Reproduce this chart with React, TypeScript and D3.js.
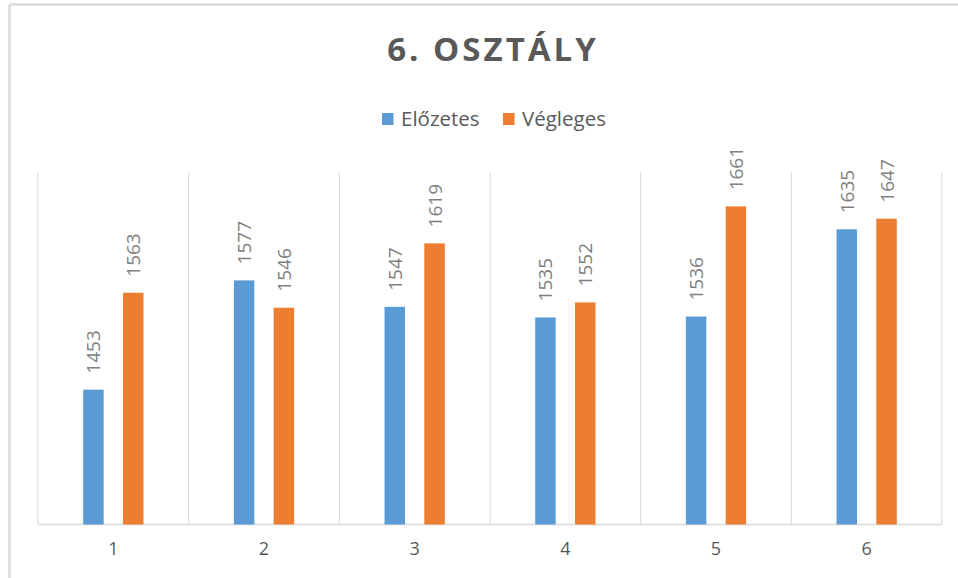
import React from "react";
import * as d3 from "d3";

const categories = ["1", "2", "3", "4", "5", "6"];
const seriesNames = ["Előzetes", "Végleges"];
const elozetes = [1453, 1577, 1547, 1535, 1536, 1635];
const vegleges = [1563, 1546, 1619, 1552, 1661, 1647];
const colors = ["#5B9BD5", "#ED7D31"];
const title = "6. OSZTÁLY";

const W = 958;
const H = 578;
const plot = { left: 38, right: 942, top: 172, bottom: 524.5 };
const font = "'Open Sans', sans-serif";

export default function App() {
  const x0 = d3.scaleBand<string>().domain(categories).range([plot.left, plot.right]).padding(0);
  const bw0 = x0.bandwidth();
  const x1 = d3
    .scaleBand<string>()
    .domain(seriesNames)
    .range([bw0 * 0.3, bw0 * 0.7])
    .paddingInner(0.485)
    .paddingOuter(0);
  const y = d3.scaleLinear().domain([1300, 1700]).range([plot.bottom, plot.top]);
  const data = [elozetes, vegleges];

  const gridXs = categories.map((c) => x0(c)!).concat([plot.right]);

  return (
    <svg
      width={W}
      height={H}
      style={{ position: "absolute", left: 0, top: 0, background: "#fff" }}
      fontFamily={font}
    >
      <rect x={0} y={0} width={W} height={H} fill="#fff" />
      <line x1={9.5} y1={4.5} x2={W} y2={4.5} stroke="#d9d9d9" strokeWidth={2.5} />
      <line x1={9.5} y1={4.5} x2={9.5} y2={H} stroke="#d9d9d9" strokeWidth={2.5} />

      <text
        x={493}
        y={61}
        textAnchor="middle"
        fontSize={33}
        fontWeight="bold"
        fill="#595959"
        letterSpacing={3}
      >
        {title}
      </text>

      {/* legend */}
      {(() => {
        const items = [
          { name: seriesNames[0], sx: 382, tx: 401 },
          { name: seriesNames[1], sx: 503, tx: 522 },
        ];
        return items.map((it, i) => (
          <g key={it.name}>
            <rect x={it.sx} y={113} width={11.5} height={12} fill={colors[i]} />
            <text x={it.tx} y={125.5} fontSize={20.5} fill="#595959">
              {it.name}
            </text>
          </g>
        ));
      })()}

      {/* vertical gridlines */}
      {gridXs.map((gx, i) => (
        <line key={i} x1={gx} x2={gx} y1={plot.top} y2={plot.bottom} stroke="#d9d9d9" strokeWidth={1} />
      ))}
      <line x1={plot.left} x2={plot.right} y1={plot.bottom} y2={plot.bottom} stroke="#d9d9d9" strokeWidth={1.5} />

      {/* bars */}
      {categories.map((c, ci) =>
        seriesNames.map((s, si) => {
          const v = data[si][ci];
          const bx = x0(c)! + x1(s)!;
          const by = y(v);
          return (
            <g key={c + s}>
              <rect x={bx} y={by} width={x1.bandwidth()} height={plot.bottom - by} fill={colors[si]} />
              <text
                transform={`translate(${bx + x1.bandwidth() / 2 + 7},${by - 16}) rotate(-90)`}
                fontSize={19}
                fill="#808080"
                textAnchor="start"
              >
                {v}
              </text>
            </g>
          );
        })
      )}

      {/* x labels */}
      {categories.map((c) => (
        <text key={c} x={x0(c)! + bw0 / 2} y={555} textAnchor="middle" fontSize={18} fill="#595959">
          {c}
        </text>
      ))}
    </svg>
  );
}
